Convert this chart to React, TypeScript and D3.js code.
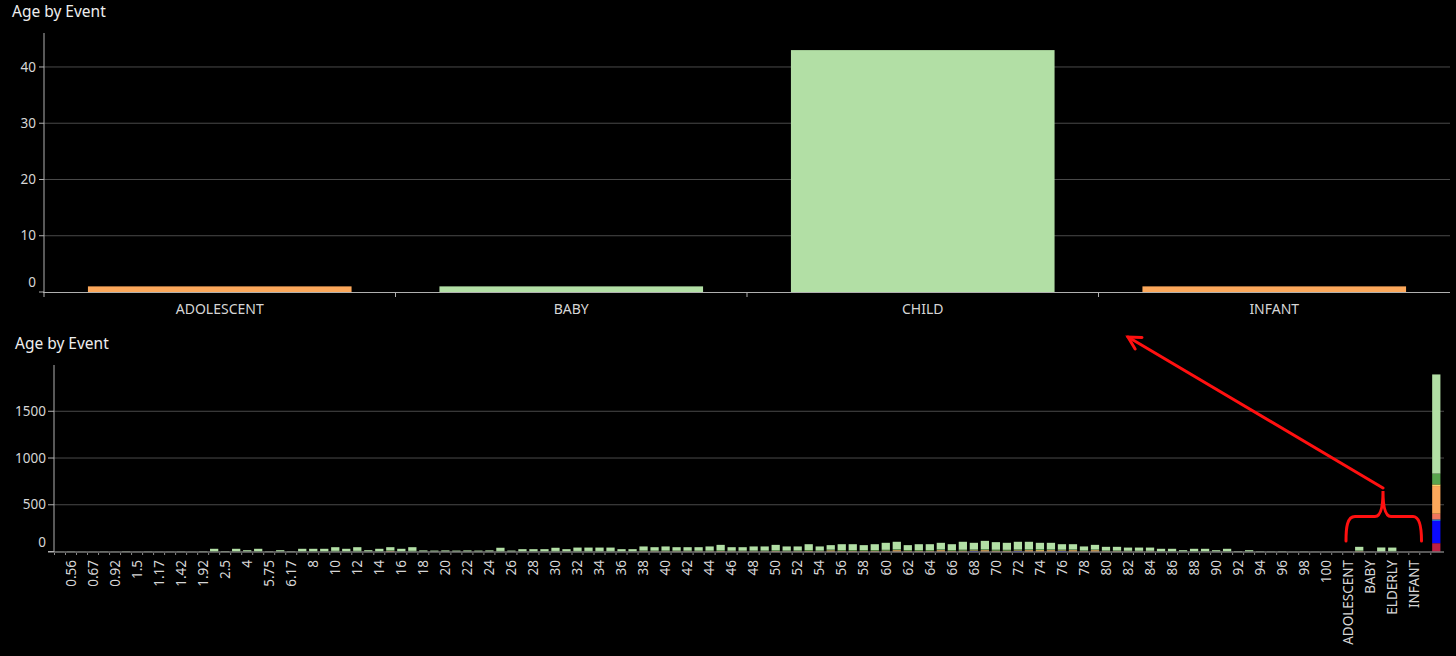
import React from 'react';
import * as d3 from 'd3';

const W = 1456;
const H = 656;

// ---------- top chart data ----------
const topCategories = ['ADOLESCENT', 'BABY', 'CHILD', 'INFANT'];
const topValues = [1, 1, 43, 1];
const topSeries = ['orange', 'lightGreen', 'lightGreen', 'orange'];
const topTicks = [0, 10, 20, 30, 40];

// ---------- bottom chart data ----------
const bottomCategories = [
  '0.42', '0.56', '0.58', '0.67', '0.75', '0.92', '1', '1.5', '1.08', '1.17',
  '1.25', '1.42', '1.83', '1.92', '2', '2.5', '3', '4', '5', '5.75',
  '6', '6.17', '7', '8', '9', '10', '11', '12', '13', '14',
  '15', '16', '17', '18', '19', '20', '21', '22', '23', '24',
  '25', '26', '27', '28', '29', '30', '31', '32', '33', '34',
  '35', '36', '37', '38', '39', '40', '41', '42', '43', '44',
  '45', '46', '47', '48', '49', '50', '51', '52', '53', '54',
  '55', '56', '57', '58', '59', '60', '61', '62', '63', '64',
  '65', '66', '67', '68', '69', '70', '71', '72', '73', '74',
  '75', '76', '77', '78', '79', '80', '81', '82', '83', '84',
  '85', '86', '87', '88', '89', '90', '91', '92', '93', '94',
  '95', '96', '97', '98', '99', '100', '101', 'ADOLESCENT', 'ADULT', 'BABY',
  'CHILD', 'ELDERLY', 'FETUS', 'INFANT', 'TEEN', 'Null',
];
// categories whose axis label is not drawn (blank in the source)
const hiddenLabels = ['Null'];

const lightGreen = [
  1, 2, 1, 1, 2, 1, 3, 1, 2, 1,
  1, 2, 1, 3, 24, 4, 24, 11, 24, 3,
  11, 3, 24, 24, 24, 39, 24, 39, 11, 24,
  34, 24, 39, 10, 8, 10, 8, 10, 8, 10,
  34, 8, 21, 21, 21, 34, 21, 36, 36, 36,
  36, 21, 21, 44, 37, 44, 37, 37, 37, 44,
  58, 37, 37, 44, 44, 58, 44, 43, 62, 43,
  48, 62, 62, 52, 62, 75, 80, 52, 62, 62,
  70, 62, 85, 72, 90, 81, 75, 82, 80, 68,
  70, 58, 56, 43, 50, 40, 40, 34, 34, 34,
  24, 24, 11, 24, 24, 11, 24, 4, 11, 3,
  2, 3, 1, 2, 1, 1, 1, 0, 40, 1,
  43, 36, 0, 0, 0, 1061,
];

const darkGreen = [
  0, 0, 0, 0, 0, 0, 0, 0, 0, 0,
  0, 0, 0, 0, 5, 0, 5, 3, 5, 0,
  3, 0, 5, 5, 5, 7, 5, 7, 3, 5,
  6, 5, 7, 2, 2, 2, 2, 2, 2, 2,
  6, 2, 4, 4, 4, 6, 4, 6, 6, 6,
  6, 4, 4, 7, 6, 7, 6, 6, 6, 7,
  8, 6, 6, 7, 7, 8, 7, 7, 8, 7,
  8, 8, 8, 8, 8, 9, 10, 8, 8, 8,
  9, 8, 10, 9, 10, 10, 9, 10, 10, 9,
  9, 8, 8, 7, 7, 6, 6, 5, 5, 5,
  5, 5, 3, 5, 5, 3, 5, 0, 3, 0,
  0, 0, 0, 0, 0, 0, 0, 0, 6, 0,
  0, 6, 0, 0, 0, 115,
];

const orange = [
  0, 0, 0, 0, 0, 0, 0, 0, 0, 0,
  0, 0, 0, 0, 0, 0, 0, 0, 0, 0,
  0, 0, 0, 0, 0, 0, 0, 0, 0, 0,
  6, 0, 0, 0, 0, 0, 0, 0, 0, 0,
  0, 0, 0, 0, 0, 0, 0, 0, 0, 0,
  0, 0, 0, 3, 3, 3, 3, 3, 3, 3,
  5, 3, 3, 3, 3, 5, 3, 4, 8, 4,
  12, 8, 8, 8, 8, 9, 14, 8, 8, 8,
  14, 8, 9, 7, 14, 9, 9, 7, 14, 8,
  14, 7, 14, 4, 14, 4, 4, 3, 3, 3,
  0, 0, 0, 0, 0, 0, 0, 0, 0, 0,
  0, 0, 0, 0, 0, 0, 0, 1, 4, 0,
  0, 0, 0, 1, 0, 296,
];

// sparse series: [category, value]
const blue: [string, number][] = [['68', 5], ['72', 5], ['76', 5], ['Null', 240]];
const yellow: [string, number][] = [['74', 8], ['Null', 18]];
const salmon: [string, number][] = [['Null', 61]];
const lightBlue: [string, number][] = [['Null', 14]];
const crimson: [string, number][] = [['Null', 89]];

const bottomTicks = [0, 500, 1000, 1500];

// stacking order, bottom to top
const seriesOrder = ['crimson', 'blue', 'lightBlue', 'salmon', 'orange', 'yellow', 'darkGreen', 'lightGreen'];
const seriesColors: Record<string, string> = {
  crimson: '#be1f42',
  blue: '#0a0aff',
  lightBlue: '#2b9cff',
  salmon: '#f0765e',
  orange: '#fca85b',
  yellow: '#f8d469',
  darkGreen: '#58a34d',
  lightGreen: '#b2dfa5',
};

const FONT = '"Noto Sans", "Open Sans", sans-serif';
const TEXT = '#d6d6d6';
const GRID = '#4a4a4a';
const AXIS = '#b0b0b0';

export default function App() {
  // ---- top chart scales
  const xTop = d3.scaleBand<string>().domain(topCategories).range([44, 1450]).paddingInner(0.25).paddingOuter(0.125);
  const yTop = d3.scaleLinear().domain([0, 46.04]).range([292, 33]);
  const stepTop = xTop.step();

  // ---- bottom chart scales
  const xBot = d3.scaleBand<string>().domain(bottomCategories).range([54.5, 1441.8]).paddingInner(0.25).paddingOuter(0.125);
  const yBot = d3.scaleLinear().domain([0, 1995]).range([551.5, 365]);
  const stepBot = xBot.step();

  const sparse: Record<string, [string, number][]> = { blue, yellow, salmon, lightBlue, crimson };
  const rows = bottomCategories.map((cat, i) => {
    const r: Record<string, any> = { cat, lightGreen: lightGreen[i], darkGreen: darkGreen[i], orange: orange[i] };
    Object.keys(sparse).forEach((k) => {
      const hit = sparse[k].find((p) => p[0] === cat);
      r[k] = hit ? hit[1] : 0;
    });
    return r;
  });
  const stacked = d3.stack<Record<string, any>>().keys(seriesOrder)(rows);

  // arrow geometry
  const tail = { x: 1383, y: 488 };
  const tip = { x: 1128, y: 337 };
  const ang = Math.atan2(tail.y - tip.y, tail.x - tip.x);
  const barb = 14;
  const b1 = { x: tip.x + barb * Math.cos(ang + 0.5), y: tip.y + barb * Math.sin(ang + 0.5) };
  const b2 = { x: tip.x + barb * Math.cos(ang - 0.5), y: tip.y + barb * Math.sin(ang - 0.5) };

  return (
    <svg width={W} height={H} style={{ position: 'absolute', left: 0, top: 0, display: 'block', fontFamily: FONT }}>
      <rect x={0} y={0} width={W} height={H} fill="#000" />

      {/* ===== TOP CHART ===== */}
      <text x={12} y={17} fill="#eeeeee" fontSize={15.5}>Age by Event</text>
      {topTicks.filter((t) => t > 0).map((t) => (
        <line key={'tg' + t} x1={44} x2={1450} y1={yTop(t)} y2={yTop(t)} stroke={GRID} strokeWidth={1} />
      ))}
      {topTicks.map((t) => (
        <g key={'tt' + t}>
          <line x1={39} x2={44} y1={yTop(t)} y2={yTop(t)} stroke={AXIS} />
          <text x={36} y={yTop(t) - (t === 0 ? 10 : 0)} dy="0.35em" textAnchor="end" fill={TEXT} fontSize={13.5}>{t}</text>
        </g>
      ))}
      {topCategories.map((c, i) => (
        <rect key={'tb' + c} x={xTop(c)} width={xTop.bandwidth()} y={yTop(topValues[i])} height={yTop(0) - yTop(topValues[i])} fill={seriesColors[topSeries[i]]} />
      ))}
      <line x1={44} x2={44} y1={33} y2={292} stroke={AXIS} />
      <line x1={43} x2={1450} y1={292.5} y2={292.5} stroke={AXIS} />
      {topCategories.map((c, i) => (
        <line key={'td' + c} x1={44 + i * stepTop} x2={44 + i * stepTop} y1={292} y2={297} stroke={AXIS} />
      ))}
      {topCategories.map((c) => (
        <text key={'tl' + c} x={(xTop(c) as number) + xTop.bandwidth() / 2} y={309} dy="0.35em" textAnchor="middle" fill={TEXT} fontSize={14}>{c}</text>
      ))}

      {/* ===== BOTTOM CHART ===== */}
      <text x={15} y={349} fill="#eeeeee" fontSize={15.5}>Age by Event</text>
      {bottomTicks.filter((t) => t > 0).map((t) => (
        <line key={'bg' + t} x1={54} x2={1444} y1={yBot(t)} y2={yBot(t)} stroke={GRID} strokeWidth={1} />
      ))}
      {bottomTicks.map((t) => (
        <g key={'bt' + t}>
          <line x1={48} x2={54} y1={yBot(t)} y2={yBot(t)} stroke={AXIS} />
          <text x={46} y={yBot(t) - (t === 0 ? 9 : 0)} dy="0.35em" textAnchor="end" fill={TEXT} fontSize={13.5}>{t}</text>
        </g>
      ))}
      {stacked.map((s) => (
        <g key={'s' + s.key} fill={seriesColors[s.key]}>
          {s.map((d, i) => {
            const h = yBot(d[0]) - yBot(d[1]);
            if (h <= 0) return null;
            return <rect key={i} x={xBot(bottomCategories[i])} width={xBot.bandwidth()} y={yBot(d[1])} height={h} />;
          })}
        </g>
      ))}
      <line x1={54} x2={54} y1={365} y2={552} stroke={AXIS} />
      <line x1={48} x2={1444} y1={552} y2={552} stroke={AXIS} />
      {bottomCategories.map((c, i) => {
        const bx = (xBot(c) as number) - (stepBot * 0.25) / 2;
        return <line key={'bd' + i} x1={bx} x2={bx} y1={553} y2={555} stroke="#8a8a8a" />;
      })}
      {bottomCategories.map((c, i) =>
        i % 2 === 1 && !hiddenLabels.includes(c) ? (
          <text
            key={'bl' + i}
            transform={`translate(${(xBot(c) as number) + xBot.bandwidth() / 2},560) rotate(-90)`}
            dy="0.35em"
            textAnchor="end"
            fill={TEXT}
            fontSize={13.5}
          >
            {c}
          </text>
        ) : null
      )}

      {/* ===== annotation ===== */}
      <g stroke="#ff1010" strokeWidth={3} fill="none" strokeLinecap="round">
        <line x1={tail.x} y1={tail.y} x2={tip.x} y2={tip.y} />
        <polyline points={`${b1.x},${b1.y} ${tip.x},${tip.y} ${b2.x},${b2.y}`} />
        <path d="M1346,541 C1346,528 1347,516.5 1355,516.5 L1375,516.5 C1381,516.5 1383,505 1383,491 C1383,505 1385,516.5 1391,516.5 L1413,516.5 C1420,516.5 1421.5,528 1421.5,541" />
      </g>
    </svg>
  );
}
